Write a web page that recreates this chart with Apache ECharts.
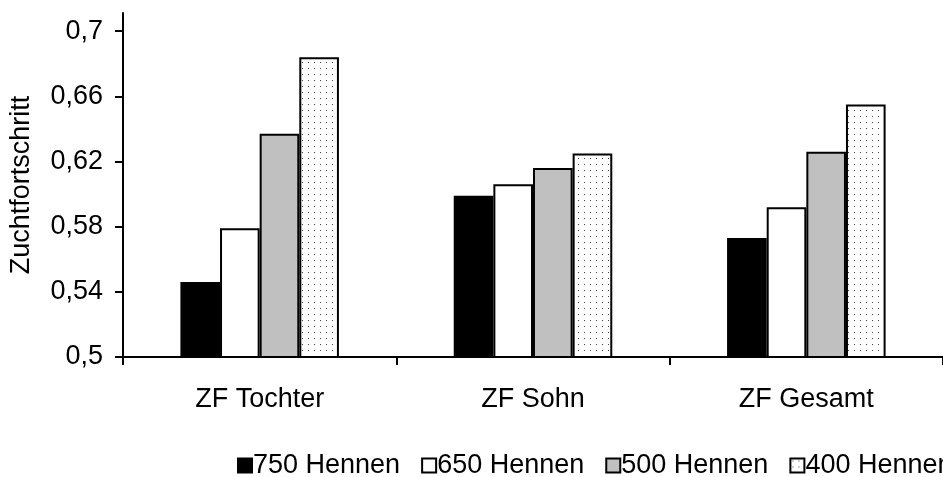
<!DOCTYPE html>
<html>
<head>
<meta charset="utf-8">
<script src="https://cdn.jsdelivr.net/npm/echarts@6/dist/echarts.min.js"></script>
<style>
  html, body { margin: 0; padding: 0; background: #fff; }
  #chart { width: 943px; height: 477px; }
</style>
</head>
<body>
<div id="chart"></div>
<script>
// Breeding progress (Zuchtfortschritt) per component and flock size
var categories = ['ZF Tochter', 'ZF Sohn', 'ZF Gesamt'];
var seriesNames = ['750 Hennen', '650 Hennen', '500 Hennen', '400 Hennen'];
var hennen750 = [0.546, 0.599, 0.573];
var hennen650 = [0.579, 0.606, 0.592];
var hennen500 = [0.637, 0.616, 0.626];
var hennen400 = [0.684, 0.625, 0.655];
var yTicks = [0.5, 0.54, 0.58, 0.62, 0.66, 0.7];

// small dotted fill tile for the last series
function dotTile() {
  var c = document.createElement('canvas');
  c.width = 6; c.height = 6;
  var g = c.getContext('2d');
  g.fillStyle = '#ffffff';
  g.fillRect(0, 0, 6, 6);
  g.fillStyle = '#444444';
  g.fillRect(2, 2, 1, 1);
  return c;
}

var fills = ['#000000', '#ffffff', '#c0c0c0', { image: dotTile(), repeat: 'repeat' }];
var values = [hennen750, hennen650, hennen500, hennen400];
var font = 'Liberation Sans, Arial, sans-serif';
var axisFont = 27;

var series = seriesNames.map(function (name, i) {
  return {
    name: name,
    type: 'bar',
    data: values[i],
    barGap: '0%',
    barCategoryGap: '42%',
    itemStyle: { color: fills[i], borderColor: '#000', borderWidth: 2 }
  };
});

var chart = echarts.init(document.getElementById('chart'), null, { renderer: 'canvas' });
chart.setOption({
  animation: false,
  textStyle: { fontFamily: font },
  grid: { left: 120, right: -6, top: 13, bottom: 120, containLabel: false },
  legend: {
    data: seriesNames,
    left: 237,
    top: 452,
    width: 1200,
    padding: 0,
    itemWidth: 14,
    itemHeight: 14,
    itemGap: 21,
    icon: 'rect',
    textStyle: { fontSize: 27, color: '#000', fontFamily: font, padding: [0, 0, 0, -4] }
  },
  xAxis: {
    type: 'category',
    data: categories,
    axisLine: { lineStyle: { color: '#000', width: 2 } },
    axisTick: { show: true, length: 8, lineStyle: { color: '#000', width: 2 } },
    axisLabel: { fontSize: axisFont, color: '#000', margin: 29, fontFamily: font }
  },
  yAxis: {
    type: 'value',
    min: 0.5,
    max: 0.7112,
    name: 'Zuchtfortschritt',
    nameLocation: 'middle',
    nameRotate: 90,
    nameGap: 88,
    nameTextStyle: { fontSize: axisFont, color: '#000', fontFamily: font },
    splitLine: { show: false },
    axisLine: { show: true, lineStyle: { color: '#000', width: 2 } },
    axisTick: { show: true, length: 8, customValues: yTicks, lineStyle: { color: '#000', width: 2 } },
    axisLabel: {
      customValues: yTicks,
      fontSize: axisFont,
      color: '#000',
      margin: 20,
      fontFamily: font,
      formatter: function (v) { return String(+v.toFixed(2)).replace('.', ','); }
    }
  },
  series: series
});
</script>
</body>
</html>
